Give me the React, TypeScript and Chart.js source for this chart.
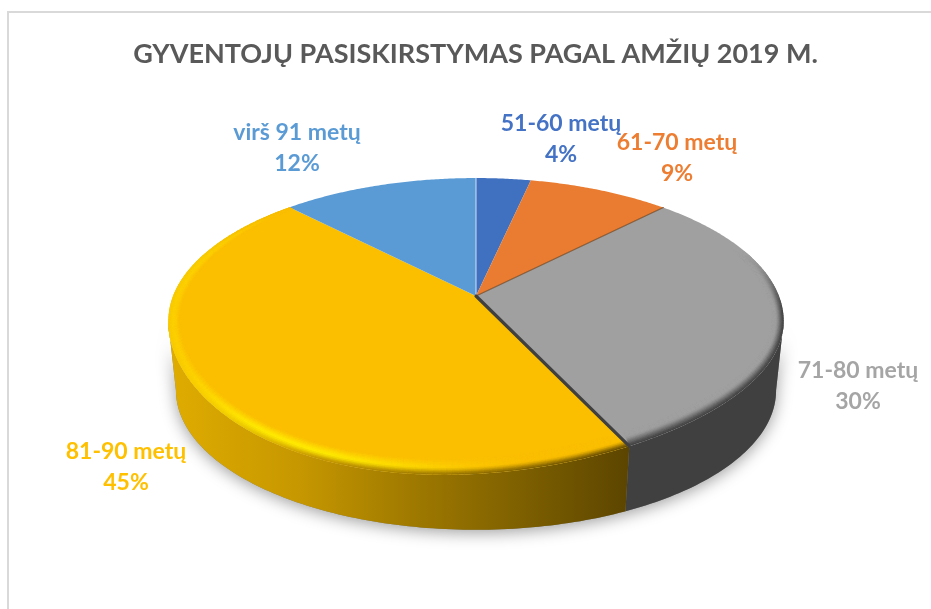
import React, { useEffect, useRef } from "react";
import { Chart, registerables } from "chart.js";

Chart.register(...registerables);

const categories = ["51-60 metų", "61-70 metų", "71-80 metų", "81-90 metų", "virš 91 metų"];
const sliceValues = [3.4, 8.85, 30.75, 44.8, 12.2];
const percentLabels = ["4%", "9%", "30%", "45%", "12%"];
const sliceColors = ["#4070C0", "#E97C30", "#A0A0A0", "#FBBF00", "#5B9BD5"];
const labelColors = ["#4472C4", "#ED7D31", "#A5A5A5", "#FFC000", "#5B9BD5"];
const titleText = "GYVENTOJŲ PASISKIRSTYMAS PAGAL AMŽIŲ 2019 M.";

// text anchors of the data labels
const labelCentres = [
  [561, 124],
  [677, 143],
  [858, 371],
  [126, 452],
  [297, 133],
];
const LINE_GAP = 31;

// perspective of the disc
const CX = 476, APEX_Y = 296, K = 0.175, A = 138.6, B = 303;
const BOTTOM_Y = 366, BOTTOM_SCALE = 0.975;
const FRONT_BULGE = 10, FRONT_SKEW = 20;
const STEP = Math.PI / 180;
// the wall faces the viewer only between the two tangent angles
const WALL_FROM = Math.acos(-K), WALL_TO = Math.PI * 2 - Math.acos(-K);

type RGB = [number, number, number];
const hex = (h: string): RGB => [parseInt(h.slice(1, 3), 16), parseInt(h.slice(3, 5), 16), parseInt(h.slice(5, 7), 16)];
const mix = (p: RGB, q: RGB, t: number): RGB => {
  const f = Math.max(0, Math.min(1, t));
  return [p[0] + (q[0] - p[0]) * f, p[1] + (q[1] - p[1]) * f, p[2] + (q[2] - p[2]) * f];
};
const css = (c: RGB) => `rgb(${Math.round(c[0])},${Math.round(c[1])},${Math.round(c[2])})`;
const smooth = (e0: number, e1: number, x: number) => {
  const t = Math.max(0, Math.min(1, (x - e0) / (e1 - e0)));
  return t * t * (3 - 2 * t);
};

const top = (th: number) => {
  const u = Math.sin(th), v = -Math.cos(th), d = 1 - K * v;
  const front = v > 0 ? v * v * (FRONT_BULGE - FRONT_SKEW * u) : 0;
  return { x: CX + (B * u) / d, y: APEX_Y + (A * v) / d + front, u, v };
};
const bottom = (th: number) => {
  const u = Math.sin(th), v = -Math.cos(th), d = 1 - K * v;
  return { x: CX + (B * BOTTOM_SCALE * u) / d, y: BOTTOM_Y + (A * BOTTOM_SCALE * v) / d };
};

const goldStops: [number, string][] = [[170, "#DFAC00"], [300, "#C69700"], [410, "#A07A00"], [520, "#7E6000"], [628, "#5C4500"]];
const goldSide = (x: number): RGB => {
  for (let i = 1; i < goldStops.length; i++) {
    if (x <= goldStops[i][0]) {
      const [x0, c0] = goldStops[i - 1];
      const [x1, c1] = goldStops[i];
      return mix(hex(c0), hex(c1), (x - x0) / (x1 - x0));
    }
  }
  return hex(goldStops[goldStops.length - 1][1]);
};
const sideColor = (i: number, x: number): RGB => {
  if (i === 3) return goldSide(x);
  if (i === 2) return hex("#404040");
  return mix(hex(sliceColors[i]), [0, 0, 0], 0.6);
};

const discPlugin = {
  id: "perspectiveDisc",
  beforeDraw(chart: any) {
    const ctx = chart.ctx as CanvasRenderingContext2D;
    ctx.save();
    ctx.fillStyle = "#FFFFFF";
    ctx.fillRect(0, 0, chart.width, chart.height);
    ctx.fillStyle = "#D9D9D9";
    ctx.fillRect(7, 11, chart.width - 7, 2);
    ctx.fillRect(7, 11, 2, chart.height - 11);
    ctx.restore();
  },
  beforeDatasetsDraw(chart: any) {
    const ctx = chart.ctx as CanvasRenderingContext2D;
    const arcs = chart.getDatasetMeta(0).data.map((a: any, i: number) => ({
      i,
      s: a.startAngle + Math.PI / 2,
      e: a.endAngle + Math.PI / 2,
    }));
    ctx.save();

    // outer wall: one shape per slice, visible part only
    const grad = ctx.createLinearGradient(goldStops[0][0], 0, goldStops[goldStops.length - 1][0], 0);
    const span = goldStops[goldStops.length - 1][0] - goldStops[0][0];
    goldStops.forEach(([x, c]) => grad.addColorStop((x - goldStops[0][0]) / span, c));
    const wallPath = (s: number, e: number) => {
      ctx.beginPath();
      const p0 = top(s);
      ctx.moveTo(p0.x, p0.y);
      for (let t = s; t < e; t += STEP) {
        const p = top(t);
        ctx.lineTo(p.x, p.y);
      }
      const pe = top(e), qe = bottom(e);
      ctx.lineTo(pe.x, pe.y);
      ctx.lineTo(qe.x, qe.y);
      for (let t = e; t > s; t -= STEP) {
        const q = bottom(t);
        ctx.lineTo(q.x, q.y);
      }
      const qs = bottom(s);
      ctx.lineTo(qs.x, qs.y);
      ctx.closePath();
    };

    // soft shadow thrown by the solid
    ctx.save();
    ctx.shadowColor = "rgba(0,0,0,0.38)";
    ctx.shadowBlur = 16;
    ctx.shadowOffsetY = 3;
    ctx.fillStyle = "#808080";
    wallPath(WALL_FROM, WALL_TO);
    ctx.fill();
    ctx.restore();

    for (const arc of arcs) {
      const s = Math.max(arc.s, WALL_FROM), e = Math.min(arc.e, WALL_TO);
      if (e <= s) continue;
      ctx.fillStyle = arc.i === 3 ? grad : css(sideColor(arc.i, 0));
      wallPath(s, e);
      ctx.fill();
    }

    // top faces
    const slicePath = (arc: any) => {
      ctx.beginPath();
      ctx.moveTo(CX, APEX_Y);
      for (let t = arc.s; t < arc.e; t += STEP / 2) {
        const p = top(t);
        ctx.lineTo(p.x, p.y);
      }
      const p = top(arc.e);
      ctx.lineTo(p.x, p.y);
      ctx.closePath();
    };
    for (const arc of arcs) {
      ctx.fillStyle = sliceColors[arc.i];
      slicePath(arc);
      ctx.fill();
    }

    // bevel along the rim
    const BANDS = 10;
    for (const arc of arcs) {
      ctx.save();
      slicePath(arc);
      ctx.clip();
      const base = hex(sliceColors[arc.i]);
      for (let t = arc.s; t < arc.e; t += STEP) {
        const t2 = Math.min(t + STEP, arc.e);
        const P = top(t), R = top(t2);
        const strength = arc.i === 3 ? smooth(-0.75, -0.1, P.v) : smooth(-0.35, 0.15, P.v);
        if (strength <= 0) continue;
        const h = arc.i === 3 ? (1 - smooth(300, 540, P.x)) * (0.4 + 0.6 * smooth(170, 270, P.x)) : 0;
        const hl = mix(base, hex("#FFEC00"), h);
        // on the far left the rim stays bright right up to its outer edge
        const side = arc.i === 3 ? mix(hl, sideColor(3, P.x), smooth(180, 330, P.x) * 0.85 + 0.15) : sideColor(arc.i, P.x);
        const peak = arc.i === 3 ? 0.5 : 0.3;
        for (let n = 0; n < BANDS; n++) {
          const s0 = n / BANDS, s1 = (n + 1) / BANDS, sm = (s0 + s1) / 2;
          const inset = (p: any, s: number) => ({
            x: p.x - (1 - s) * 12 * p.u,
            y: p.y - (1 - s) * 16 * Math.max(p.v, 0),
          });
          const q0 = inset(P, s0), q1 = inset(R, s0), q2 = inset(R, s1), q3 = inset(P, s1);
          let col: RGB = sm < peak ? mix(base, hl, sm / peak) : mix(hl, side, smooth(peak, 1.05, sm));
          col = mix(base, col, strength);
          const fill = css(col);
          ctx.fillStyle = fill;
          ctx.strokeStyle = fill;
          ctx.lineWidth = 0.5;
          ctx.beginPath();
          ctx.moveTo(q0.x, q0.y);
          ctx.lineTo(q1.x, q1.y);
          ctx.lineTo(q2.x, q2.y);
          ctx.lineTo(q3.x, q3.y);
          ctx.closePath();
          ctx.fill();
          ctx.stroke();
        }
      }
      ctx.restore();
    }

    // edges between slices
    const edge = (th: number, color: string, width: number) => {
      const p = top(th);
      ctx.strokeStyle = color;
      ctx.lineWidth = width;
      ctx.lineCap = "round";
      ctx.beginPath();
      ctx.moveTo(CX, APEX_Y);
      ctx.lineTo(p.x, p.y);
      ctx.stroke();
    };
    edge(arcs[0].s, "rgba(225,235,248,0.9)", 1);
    edge(arcs[1].e, "rgba(110,65,30,0.75)", 1.2);
    edge(arcs[2].e, "#404040", 3.2);

    // data labels
    ctx.textAlign = "center";
    ctx.textBaseline = "middle";
    ctx.font = "bold 23px Lato";
    arcs.forEach((arc: any) => {
      const [x, y] = labelCentres[arc.i];
      ctx.fillStyle = labelColors[arc.i];
      ctx.fillText(categories[arc.i], x, y);
      ctx.fillText(percentLabels[arc.i], x, y + LINE_GAP);
    });
    ctx.restore();
    return false;
  },
};

export default function App() {
  const ref = useRef<HTMLCanvasElement>(null);
  useEffect(() => {
    document.body.style.margin = "0";
    const chart = new Chart(ref.current as HTMLCanvasElement, {
      type: "pie",
      data: {
        labels: categories,
        datasets: [{ data: sliceValues, backgroundColor: sliceColors, borderWidth: 0 }],
      },
      plugins: [discPlugin],
      options: {
        animation: false,
        responsive: false,
        layout: { padding: { left: 20 } },
        plugins: {
          legend: { display: false },
          tooltip: { enabled: false },
          title: {
            display: true,
            text: titleText,
            color: "#595959",
            font: { family: "Lato", size: 27, weight: "bold" },
            padding: { top: 38, bottom: 10 },
          },
        },
      },
    } as any);
    return () => chart.destroy();
  }, []);
  return <canvas ref={ref} width={931} height={609} style={{ display: "block" }} />;
}
